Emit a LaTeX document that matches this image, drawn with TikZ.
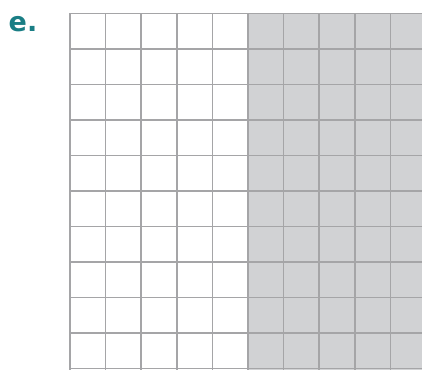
\documentclass[tikz,border=0pt]{standalone}
\usepackage{fontspec}
\usepackage{xcolor}
\usepackage{tikz}
\setsansfont{DejaVu Sans}
\definecolor{labelteal}{HTML}{1A7E85}
\definecolor{cellgray}{HTML}{D1D2D4}
\definecolor{gridline}{HTML}{A5A5A7}

\begin{document}
\begin{tikzpicture}[x=1pt,y=-1pt]
  \tikzstyle{gridlines}=[draw=gridline,line width=1.6pt]
  \tikzstyle{partlabel}=[inner sep=0pt,anchor=base west,text=labelteal,font=\sffamily\bfseries\fontsize{27}{27}\selectfont]
  \useasboundingbox (0,0) rectangle (422,369);
  \node[partlabel] (lbl) at (8.5,32) {e.};
  \begin{scope}
    \clip (0,0) rectangle (422,369);
    \fill[cellgray] (248,13.5) rectangle (440,380);
    % vertical lines
    \foreach \i in {0,...,10}
      \draw[gridlines] ({70+35.6*\i},13.5) -- ({70+35.6*\i},380);
    % horizontal lines
    \foreach \j in {0,...,10}
      \draw[gridlines] (70,{13.5+35.5*\j}) -- (440,{13.5+35.5*\j});
  \end{scope}
\end{tikzpicture}
\end{document}
